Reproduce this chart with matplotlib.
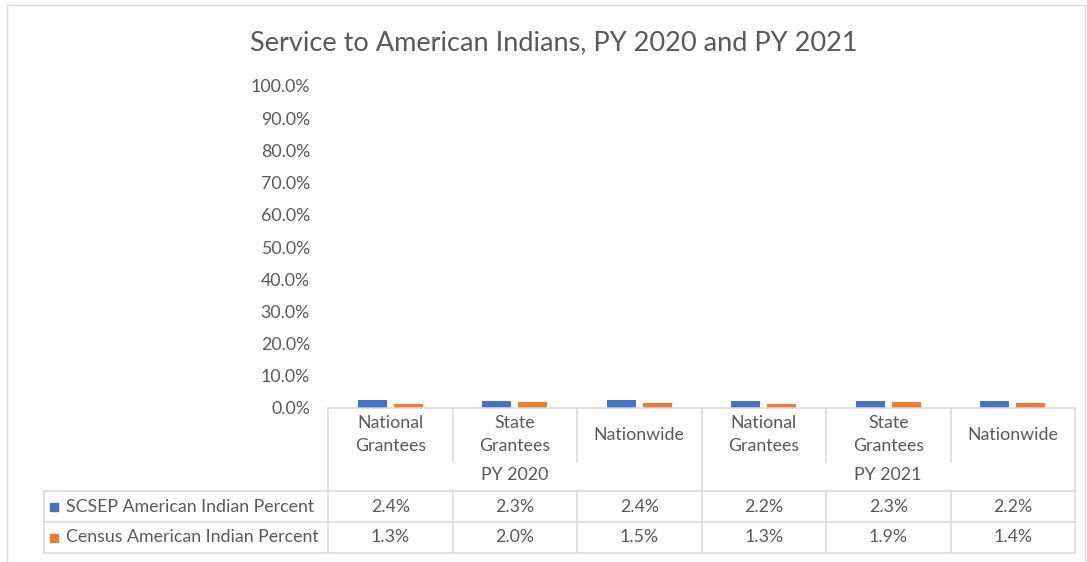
import matplotlib
matplotlib.use("Agg")
import matplotlib.pyplot as plt
from matplotlib.patches import Rectangle
from matplotlib.lines import Line2D

# ---- data ----
groups = ["PY 2020", "PY 2021"]
categories = ["National\nGrantees", "State\nGrantees", "Nationwide",
              "National\nGrantees", "State\nGrantees", "Nationwide"]
series_names = ["SCSEP American Indian Percent", "Census American Indian Percent"]
scsep = [2.4, 2.3, 2.4, 2.2, 2.3, 2.2]
census = [1.3, 2.0, 1.5, 1.3, 1.9, 1.4]
yticks = [0, 10, 20, 30, 40, 50, 60, 70, 80, 90, 100]
title = "Service to American Indians, PY 2020 and PY 2021"

colors = ["#4472C4", "#ED7D31"]
txt = "#595959"
grid = "#D9D9D9"
FONT = "Lato"

W, H = 1087, 562
fig = plt.figure(figsize=(W / 100, H / 100), dpi=100)

# plot area in pixel coords
pl, pr, pt, pb = 328, 1075, 86, 408
ax = fig.add_axes([pl / W, 1 - pb / H, (pr - pl) / W, (pb - pt) / H])
n = len(categories)
xs = list(range(n))
bw = 0.23
off = 0.145
ax.bar([x - off for x in xs], scsep, width=bw, color=colors[0])
ax.bar([x + off for x in xs], census, width=bw, color=colors[1])
ax.set_xlim(-0.5, n - 0.5)
ax.set_ylim(0, 100)
ax.set_yticks(yticks)
fs = 12.8
ax.set_yticklabels([f"{v:.1f}%" for v in yticks], fontsize=fs, color=txt, family=FONT)
ax.tick_params(axis="y", length=0, pad=13)
ax.set_xticks([])
for s in ax.spines.values():
    s.set_visible(False)
ax.patch.set_alpha(0)

# overlay in pixel coordinates for table
ov = fig.add_axes([0, 0, 1, 1], zorder=5)
ov.set_xlim(0, W)
ov.set_ylim(H, 0)
ov.axis("off")
ov.patch.set_alpha(0)

lw = 1.1
def hline(y, x0, x1):
    ov.add_line(Line2D([x0, x1], [y, y], color=grid, lw=lw))
def vline(x, y0, y1):
    ov.add_line(Line2D([x, x], [y0, y1], color=grid, lw=lw))

# chart border
ov.add_patch(Rectangle((7, 5), 1078, 600, fill=False, edgecolor=grid, lw=1.0))

# title
ov.text(553.5, 43, title, ha="center", va="center", fontsize=19.5,
        color=txt, family=FONT, fontweight="normal")

cw = (pr - pl) / n
colx = [pl + i * cw for i in range(n + 1)]
y_axis, y_grp, y_r1, y_r2, y_r3 = 408, 462, 491, 522, 553
leg_x = 44

hline(y_axis, pl, pr)
for i, x in enumerate(colx):
    if i % 3 == 0:
        vline(x, y_axis, y_r3)
    else:
        vline(x, y_axis, y_grp)
        vline(x, y_r1, y_r3)
for y in (y_r1, y_r2, y_r3):
    hline(y, leg_x, pr)
vline(leg_x, y_r1, y_r3)

for i, c in enumerate(categories):
    ov.text((colx[i] + colx[i + 1]) / 2, (y_axis + y_grp) / 2 - 0.5, c, ha="center",
            va="center", fontsize=fs, color=txt, family=FONT, linespacing=1.55)
for g, gname in enumerate(groups):
    ov.text((colx[3 * g] + colx[3 * g + 3]) / 2, (y_grp + y_r1) / 2 - 1, gname,
            ha="center", va="center", fontsize=fs, color=txt, family=FONT)

rows = [(series_names[0], scsep, colors[0], (y_r1 + y_r2) / 2),
        (series_names[1], census, colors[1], (y_r2 + y_r3) / 2)]
for name, vals, col, yc in rows:
    ov.add_patch(Rectangle((50, yc - 4), 8, 8, color=col))
    ov.text(66, yc, name, ha="left", va="center", fontsize=fs, color=txt, family=FONT)
    for i, v in enumerate(vals):
        ov.text((colx[i] + colx[i + 1]) / 2, yc, f"{v:.1f}%", ha="center",
                va="center", fontsize=fs, color=txt, family=FONT)

fig.savefig("out.png", dpi=100)
